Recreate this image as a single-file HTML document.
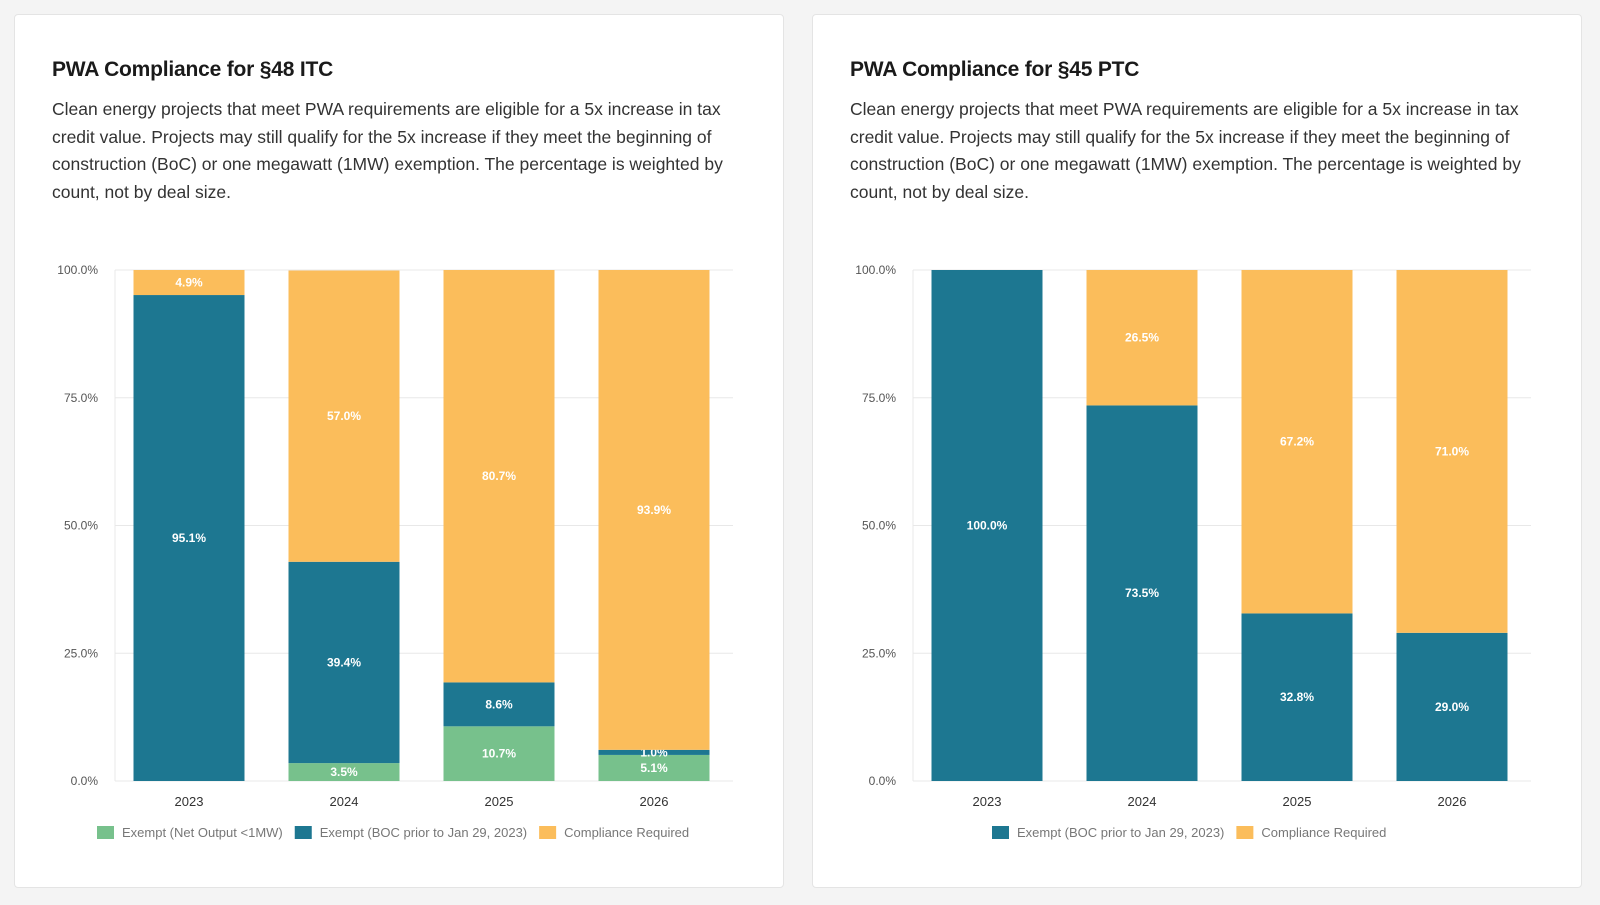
<!DOCTYPE html>
<html><head><meta charset="utf-8">
<style>
body{margin:0;width:1600px;height:905px;background:#f4f4f4;font-family:"Liberation Sans Narrow","Liberation Sans",sans-serif;position:relative;overflow:hidden}
.card{position:absolute;top:14px;width:770px;height:874px;background:#fff;border:1px solid #e4e4e4;border-radius:4px;box-sizing:border-box}
.card h2{position:absolute;left:37px;top:43px;margin:0;font-size:21px;font-weight:bold;color:#1a1a1a;letter-spacing:-0.2px}
.card p{position:absolute;left:37px;top:81px;width:690px;margin:0;font-size:17.5px;line-height:27.6px;color:#333;letter-spacing:0}
svg{position:absolute;left:0;top:0}
</style></head><body>
<div class="card" style="left:14px">
<h2>PWA Compliance for §48 ITC</h2>
<p>Clean energy projects that meet PWA requirements are eligible for a 5x increase in tax credit value. Projects may still qualify for the 5x increase if they meet the beginning of construction (BoC) or one megawatt (1MW) exemption. The percentage is weighted by count, not by deal size.</p>
</div>
<div class="card" style="left:812px">
<h2>PWA Compliance for §45 PTC</h2>
<p>Clean energy projects that meet PWA requirements are eligible for a 5x increase in tax credit value. Projects may still qualify for the 5x increase if they meet the beginning of construction (BoC) or one megawatt (1MW) exemption. The percentage is weighted by count, not by deal size.</p>
</div>
<svg id="chart" width="1600" height="905"></svg>
<script>
const categories=["2023","2024","2025","2026"];
const yTicks=[0,25,50,75,100];
const itcNetOutput=[0,3.5,10.7,5.1];
const itcBoc=[95.1,39.4,8.6,1.0];
const itcCompliance=[4.9,57.0,80.7,93.9];
const ptcBoc=[100.0,73.5,32.8,29.0];
const ptcCompliance=[0,26.5,67.2,71.0];
const colors={green:"#77c18c",teal:"#1d7791",orange:"#fbbd5b"};
const NS="http://www.w3.org/2000/svg";
const svg=document.getElementById('chart');
function mk(t,a,parent){const e=document.createElementNS(NS,t);for(const k in a)e.setAttribute(k,a[k]);(parent||svg).appendChild(e);return e;}
const yTop=270,yBot=781;
function y(v){return yBot-(yBot-yTop)*v/100;}
function drawChart(ox,series,legend,legendX,prefix){
  const g=mk('g',{});
  
  
  const left=ox+101,right=ox+719,bw=111,first=ox+175,step=155;
  yTicks.forEach(t=>{
    const l=mk('line',{x1:left,x2:right,y1:y(t),y2:y(t),stroke:'#e8e8e8','stroke-width':1},g);
    
    
    const tx=mk('text',{x:left-17,y:y(t)+4,'text-anchor':'end','font-size':12,fill:'#555'},g);
    tx.textContent=t.toFixed(1)+'%';
    
    
  });
  const ax=mk('line',{x1:left,x2:left,y1:yTop,y2:yBot,stroke:'#e8e8e8'},g);
  
  
  categories.forEach((c,i)=>{
    const cx=first+step*i,x0=cx-bw/2;let base=0;
    series.forEach(s=>{
      const v=s.values[i];
      if(v>0){
        const r=mk('rect',{x:x0,y:y(base+v),width:bw,height:y(base)-y(base+v),fill:s.color},g);
        
        
        const lt=mk('text',{x:cx,y:(y(base)+y(base+v))/2+4,'text-anchor':'middle','font-size':12,'font-weight':'bold',fill:'#fff'},g);
        lt.textContent=v.toFixed(1)+'%';
        
        
      }
      base+=v;
    });
    const xl=mk('text',{x:cx,y:806,'text-anchor':'middle','font-size':13,fill:'#333'},g);
    xl.textContent=c;
    
    
  });
  let lx=legendX;
  legend.forEach(s=>{
    const sw=mk('rect',{x:lx,y:826,width:17,height:13,fill:s.color},g);
    
    
    const t=mk('text',{x:lx+25,y:837,'font-size':13,fill:'#777'},g);
    t.textContent=s.label;
    
    
    lx+=25+t.getComputedTextLength()+12;
  });
}
const itcSeries=[
 {key:'net-output',values:itcNetOutput,color:colors.green,label:'Exempt (Net Output <1MW)'},
 {key:'boc',values:itcBoc,color:colors.teal,label:'Exempt (BOC prior to Jan 29, 2023)'},
 {key:'compliance',values:itcCompliance,color:colors.orange,label:'Compliance Required'}];
const ptcSeries=[
 {key:'boc',values:ptcBoc,color:colors.teal,label:'Exempt (BOC prior to Jan 29, 2023)'},
 {key:'compliance',values:ptcCompliance,color:colors.orange,label:'Compliance Required'}];
drawChart(14,itcSeries,itcSeries,97,'itc');
drawChart(812,ptcSeries,ptcSeries,992,'ptc');
</script>
</body></html>
